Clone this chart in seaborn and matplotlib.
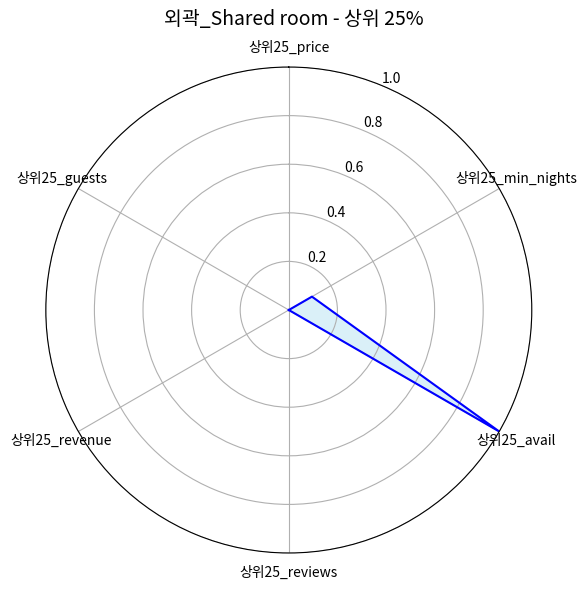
import numpy as np
import pandas as pd
import matplotlib
matplotlib.use("Agg")
import matplotlib.pyplot as plt
import seaborn as sns

categories = ["상위25_price", "상위25_min_nights", "상위25_avail",
              "상위25_reviews", "상위25_revenue", "상위25_guests"]
values = [0.0, 0.11, 1.0, 0.0, 0.0, 0.0]
title = "외곽_Shared room - 상위 25%"

plt.rcParams['font.family'] = ['Noto Sans CJK KR', 'DejaVu Sans']
plt.rcParams['axes.unicode_minus'] = False

n = len(categories)
angles = np.linspace(0, 2 * np.pi, n, endpoint=False).tolist()
df = pd.DataFrame({"angle": angles + angles[:1], "value": values + values[:1]})

fig = plt.figure(figsize=(5.87, 5.9), dpi=100)
ax = fig.add_axes([0.078, 0.0627, 0.828, 0.8237], polar=True)
ax.set_theta_offset(np.pi / 2)
ax.set_theta_direction(-1)

sns.lineplot(data=df, x="angle", y="value", sort=False, color="blue",
             linewidth=1.5, ax=ax)
ax.fill(df["angle"], df["value"], color="skyblue", alpha=0.3)

ax.set_xticks(angles)
ax.set_xticklabels(categories, fontsize=10)
ax.set_ylim(0, 1)
ax.set_yticks([0.2, 0.4, 0.6, 0.8, 1.0])
ax.set_yticklabels(["0.2", "0.4", "0.6", "0.8", "1.0"], fontsize=10)
ax.set_xlabel("")
ax.set_ylabel("")
ax.grid(True, color="#b0b0b0")

fig.suptitle(title, fontsize=14, y=0.985)
plt.savefig("out.png", dpi=100)
